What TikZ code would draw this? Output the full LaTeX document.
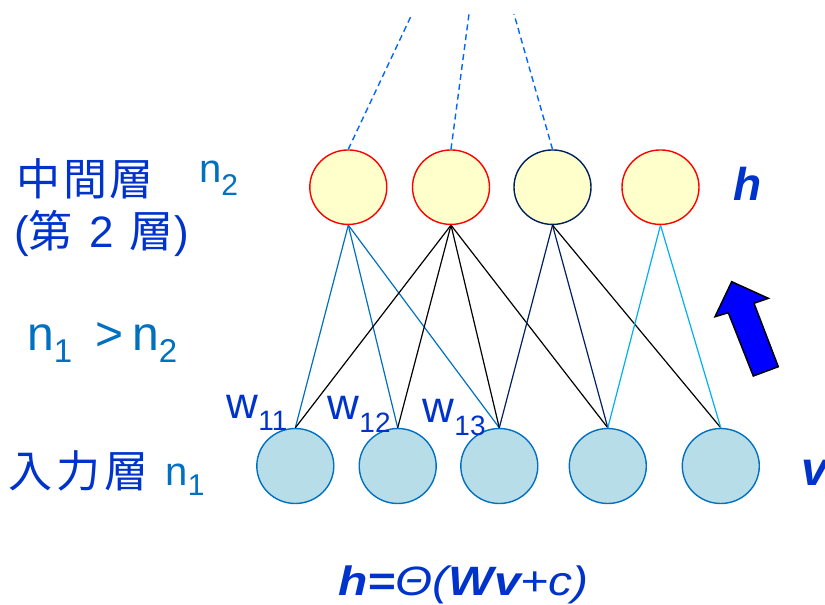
\documentclass[tikz,border=0pt]{standalone}
\usepackage{fontspec}
\setmainfont{Liberation Sans}
\newfontfamily\cjk{Noto Sans CJK JP}
\usetikzlibrary{shapes.geometric}
\definecolor{txtblue}{RGB}{0,51,204}
\definecolor{nblue}{RGB}{0,112,192}
\definecolor{hfill}{RGB}{255,255,204}
\definecolor{vfill}{RGB}{183,222,232}
\definecolor{navy}{RGB}{0,32,96}
\definecolor{cyanl}{RGB}{0,176,240}
\definecolor{dashblue}{RGB}{0,102,255}
\definecolor{arrowblue}{RGB}{0,0,255}
\newcommand{\subs}[3]{{\fontsize{#1}{#1}\selectfont\raisebox{#2}{#3}}}
\begin{document}
\begin{tikzpicture}[x=1pt,y=-1pt,
 hnode/.style={ellipse, minimum width=77pt, minimum height=74.5pt, inner sep=0pt, fill=hfill, line width=1.4pt},
 vnode/.style={ellipse, minimum width=77pt, minimum height=75pt, inner sep=0pt, fill=vfill, draw=nblue, line width=1.4pt},
 conn/.style={line width=1.2pt},
 dashconn/.style={draw=dashblue, line width=1.4pt, dash pattern=on 6pt off 4pt},
 lbl/.style={inner sep=0pt, anchor=base west, text=txtblue},
 nlbl/.style={inner sep=0pt, anchor=base west, text=nblue},
]
\useasboundingbox (0,0) rectangle (825,605);

% hidden layer
\node[hnode, draw=red]  (h1) at (348.3,187.2) {};
\node[hnode, draw=red]  (h2) at (451,187.2) {};
\node[hnode, draw=navy] (h3) at (552.5,187.2) {};
\node[hnode, draw=red]  (h4) at (660.5,187.2) {};

% input layer
\node[vnode] (v1) at (295.3,466) {};
\node[vnode] (v2) at (397.7,466) {};
\node[vnode] (v3) at (499.3,466) {};
\node[vnode] (v4) at (607.8,466) {};
\node[vnode] (v5) at (720.8,466) {};

% dashed lines to upper layer
\coordinate (t1) at (412,14);
\coordinate (t2) at (469,14);
\coordinate (t3) at (514,14);
\draw[dashconn] (h1.north) -- (t1);
\draw[dashconn] (h2.north) -- (t2);
\draw[dashconn] (h3.north) -- (t3);

% connectors
\draw[conn, nblue] (h1.south) -- (v1.north);
\draw[conn, nblue] (h1.south) -- (v2.north);
\draw[conn, nblue] (h1.south) -- (v3.north);
\draw[conn, black] (h2.south) -- (v1.north);
\draw[conn, black] (h2.south) -- (v2.north);
\draw[conn, black] (h2.south) -- (v3.north);
\draw[conn, black] (h2.south) -- (v4.north);
\draw[conn, navy] (h3.south) -- (v3.north);
\draw[conn, navy] (h3.south) -- (v4.north);
\draw[conn, black] (h3.south) -- (v5.north);
\draw[conn, cyanl] (h4.south) -- (v4.north);
\draw[conn, cyanl] (h4.south) -- (v5.north);

% arrow
\draw[fill=arrowblue, line width=1.5pt, line join=miter] (731.7,281.7) -- (768.3,298.3) -- (754,303.3) -- (778.3,366.7) -- (753.3,376) -- (728.3,312.7) -- (715,316.7) -- cycle;

% labels
\node[lbl, font=\fontsize{44}{44}\selectfont\cjk] (mid) at (16.5,195) {中\hspace{2.5pt}間\hspace{2.5pt}層};
\node[lbl, font=\fontsize{44}{44}\selectfont] (mid2) at (14,247) {({\cjk 第}\hspace{4pt} 2 \hspace{4pt}{\cjk 層}\hspace{1pt})};
\node[lbl, font=\fontsize{44}{44}\selectfont\cjk] (inp) at (8,487) {入\hspace{4pt}力\hspace{4pt}層};

\node[nlbl, font=\fontsize{40}{40}\selectfont] (n2lab) at (199,182) {n\subs{30}{-13pt}{2}};
\node[nlbl, font=\fontsize{48}{48}\selectfont] (ineq) at (27,350) {n\subs{33}{-12pt}{1}\hspace{23pt}>\hspace{9pt}n\subs{33}{-12pt}{2}};
\node[nlbl, font=\fontsize{40}{40}\selectfont] (n1lab) at (165.5,485) {n\subs{30}{-10pt}{1}};

\node[lbl, font=\fontsize{44}{44}\selectfont] (w11) at (226.5,418) {w\subs{28}{-12pt}{11}};
\node[lbl, font=\fontsize{44}{44}\selectfont] (w12) at (327.5,419) {w\subs{28}{-13pt}{12}};
\node[lbl, font=\fontsize{44}{44}\selectfont] (w13) at (422.5,422) {w\subs{28}{-13pt}{13}};

\node[lbl, font=\fontsize{46}{46}\selectfont\bfseries\itshape] (hlab) at (733,200) {h};
\node[lbl, font=\fontsize{48}{48}\selectfont\bfseries\itshape] (vlab) at (801,485) {v};

\node[lbl, font=\fontsize{41}{41}\selectfont\itshape, xscale=1.17] (formula) at (338,595) {\textbf{h=}Θ(\textbf{Wv}+c)};
\end{tikzpicture}
\end{document}
